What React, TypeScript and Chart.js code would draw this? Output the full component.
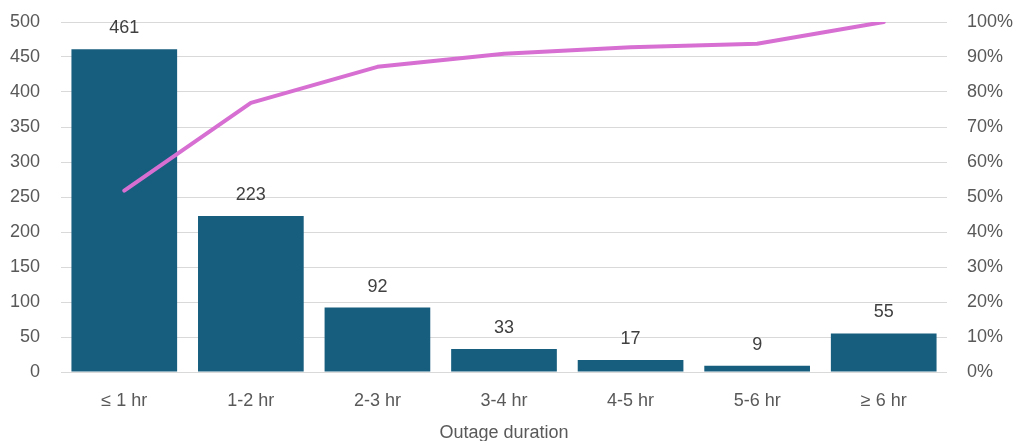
import React, { useEffect, useRef } from "react";
import { Chart, registerables } from "chart.js";

Chart.register(...registerables);

const categories = ["≤ 1 hr", "1-2 hr", "2-3 hr", "3-4 hr", "4-5 hr", "5-6 hr", "≥ 6 hr"];
const outageCounts = [461, 223, 92, 33, 17, 9, 55];
const cumulativePercent = [51.8, 76.9, 87.2, 90.9, 92.8, 93.8, 100];
const countTicks = [0, 50, 100, 150, 200, 250, 300, 350, 400, 450, 500];
const percentTicks = [0, 10, 20, 30, 40, 50, 60, 70, 80, 90, 100];

const FONT = "'Liberation Sans', Arial, sans-serif";
const TEXT = "#595959";

// Value labels above each bar
const barLabels = {
  id: "barLabels",
  afterDatasetsDraw(chart: any) {
    const ctx = chart.ctx;
    const meta = chart.getDatasetMeta(1);
    ctx.save();
    ctx.font = `18px ${FONT}`;
    ctx.fillStyle = "#404040";
    ctx.textAlign = "center";
    ctx.textBaseline = "middle";
    meta.data.forEach((bar: any, i: number) => {
      ctx.fillText(String(outageCounts[i]), bar.x, bar.y - 21);
    });
    ctx.restore();
  },
};

export default function App() {
  const ref = useRef<HTMLCanvasElement>(null);

  useEffect(() => {
    if (!ref.current) return;
    const chart = new Chart(ref.current, {
      data: {
        labels: categories,
        datasets: [
          {
            type: "line",
            data: cumulativePercent,
            yAxisID: "yRight",
            borderColor: "#D76FD2",
            borderWidth: 4,
            borderCapStyle: "round",
            borderJoinStyle: "round",
            pointRadius: 0,
            tension: 0,
            order: 0,
          },
          {
            type: "bar",
            data: outageCounts,
            yAxisID: "y",
            backgroundColor: "#175E7E",
            barPercentage: 0.835,
            categoryPercentage: 1,
            order: 1,
          },
        ] as any,
      },
      options: {
        animation: false,
        responsive: false,
        maintainAspectRatio: false,
        layout: { padding: { top: 22, left: 0, right: 0, bottom: 0 } },
        plugins: {
          legend: { display: false },
          tooltip: { enabled: false },
        },
        scales: {
          x: {
            grid: { display: false },
            border: { display: false },
            ticks: {
              color: TEXT,
              font: { family: FONT, size: 18 },
              padding: 10,
              maxRotation: 0,
            },
            title: {
              display: true,
              text: "Outage duration",
              color: TEXT,
              font: { family: FONT, size: 18 },
              padding: { top: 4, bottom: -3 },
            },
            afterFit(scale: any) {
              scale.height = 69;
              scale.paddingLeft = 0;
              scale.paddingRight = 0;
            },
          },
          y: {
            position: "left",
            min: 0,
            max: 500,
            afterBuildTicks(scale: any) {
              scale.ticks = countTicks.map((v) => ({ value: v }));
            },
            grid: { color: "#D9D9D9", lineWidth: 1, drawTicks: false },
            border: { display: false },
            ticks: {
              color: TEXT,
              font: { family: FONT, size: 18 },
              padding: 21,
            },
            afterFit(scale: any) {
              scale.width = 61;
              scale.paddingTop = 0;
              scale.paddingBottom = 0;
            },
          },
          yRight: {
            position: "right",
            min: 0,
            max: 100,
            afterBuildTicks(scale: any) {
              scale.ticks = percentTicks.map((v) => ({ value: v }));
            },
            grid: { display: false, drawTicks: false },
            border: { display: false },
            ticks: {
              color: TEXT,
              font: { family: FONT, size: 18 },
              padding: 20,
              callback: (v: any) => `${v}%`,
            },
            afterFit(scale: any) {
              scale.width = 69;
              scale.paddingTop = 0;
              scale.paddingBottom = 0;
            },
          },
        },
      } as any,
      plugins: [barLabels],
    });
    return () => chart.destroy();
  }, []);

  return (
    <div style={{ position: "fixed", left: 0, top: 0, width: 1016, height: 441, background: "#fff" }}>
      <canvas ref={ref} width={1016} height={441} style={{ display: "block" }} />
    </div>
  );
}
